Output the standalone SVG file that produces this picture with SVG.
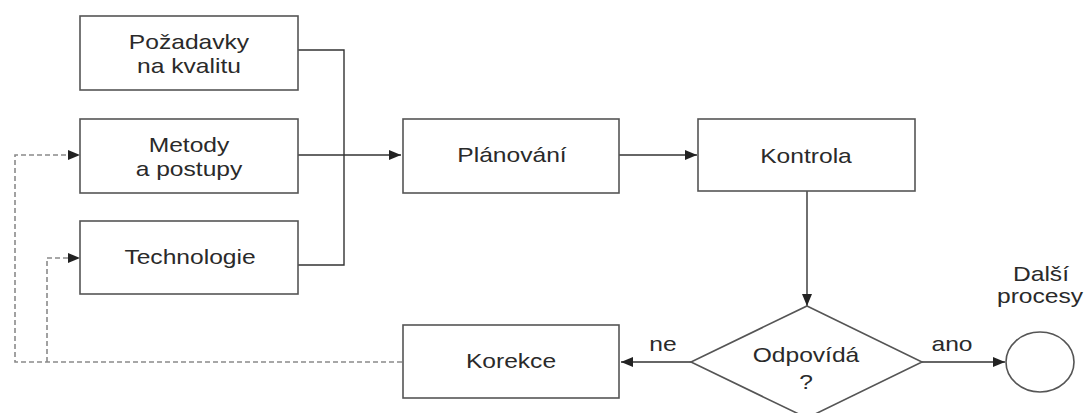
<svg xmlns="http://www.w3.org/2000/svg" width="1086" height="413" viewBox="0 0 1086 413">
<style>
.box{fill:#fff;stroke:#555;stroke-width:1.6}
.ln{fill:none;stroke:#333;stroke-width:1.4}
.dash{fill:none;stroke:#8a8a8a;stroke-width:1.6;stroke-dasharray:5 3}
text{font-family:"Liberation Sans",Arial,sans-serif;font-size:20.5px;fill:#2a2a2a;text-anchor:middle}
</style>
<defs>
<marker id="ah" viewBox="0 0 12 10" refX="12" refY="5" markerWidth="12" markerHeight="10" markerUnits="userSpaceOnUse" orient="auto">
<path d="M0,0 L12,5 L0,10 Z" fill="#222"/>
</marker>
</defs>
<g id="connectors">
<polyline class="ln" points="298,50 344,50 344,265 298,265"/>
<line class="ln" x1="298" y1="155" x2="401" y2="155" marker-end="url(#ah)"/>
<line class="ln" x1="619" y1="155" x2="697" y2="155" marker-end="url(#ah)"/>
<line class="ln" x1="807" y1="191" x2="807" y2="306" marker-end="url(#ah)"/>
<line class="ln" x1="691" y1="362" x2="621" y2="362" marker-end="url(#ah)"/>
<line class="ln" x1="922" y1="362" x2="1005" y2="362" marker-end="url(#ah)"/>
<polyline class="dash" points="402,362 15,362 15,155 68,155"/>
<polyline class="dash" points="47,362 47,258 68,258"/>
<path d="M68,150 L80,155 L68,160 Z" fill="#222"/>
<path d="M68,253 L80,258 L68,263 Z" fill="#222"/>
<text transform="translate(663 351) scale(1.2 1)">ne</text>
<text transform="translate(952 351) scale(1.2 1)">ano</text>
</g>
<g id="pozadavky">
<rect class="box" x="80" y="16" width="218" height="74"/>
<text transform="translate(189 49) scale(1.2 1)">Požadavky</text>
<text transform="translate(189 73) scale(1.2 1)">na kvalitu</text>
</g>
<g id="metody">
<rect class="box" x="80" y="119" width="218" height="74"/>
<text transform="translate(189 152) scale(1.2 1)">Metody</text>
<text transform="translate(189 176) scale(1.2 1)">a postupy</text>
</g>
<g id="technologie">
<rect class="box" x="80" y="221" width="218" height="73"/>
<text transform="translate(190 264) scale(1.2 1)">Technologie</text>
</g>
<g id="planovani">
<rect class="box" x="403" y="119" width="216" height="74"/>
<text transform="translate(512 162) scale(1.2 1)">Plánování</text>
</g>
<g id="kontrola">
<rect class="box" x="698" y="119" width="217" height="72"/>
<text transform="translate(806 163) scale(1.2 1)">Kontrola</text>
</g>
<g id="odpovida">
<polygon class="box" points="807,306 922,362 807,418 691,362"/>
<text transform="translate(806 362) scale(1.2 1)">Odpovídá</text>
<text transform="translate(806 389) scale(1.2 1)">?</text>
</g>
<g id="korekce">
<rect class="box" x="403" y="325" width="216" height="73"/>
<text transform="translate(511 368) scale(1.2 1)">Korekce</text>
</g>
<g id="dalsi">
<ellipse class="box" cx="1040" cy="362" rx="34" ry="30"/>
<text transform="translate(1041 281) scale(1.2 1)">Další</text>
<text transform="translate(1040 303) scale(1.2 1)">procesy</text>
</g>
</svg>
